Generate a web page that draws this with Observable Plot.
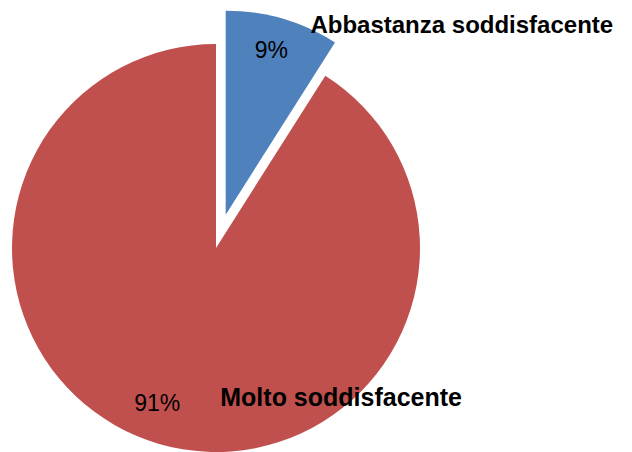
<!DOCTYPE html>
<html><head><meta charset="utf-8">
<script src="https://cdn.jsdelivr.net/npm/d3@7"></script>
<script src="https://cdn.jsdelivr.net/npm/@observablehq/plot@0.6"></script>
<style>body{margin:0;background:#fff}</style>
</head><body><div id="chart"></div>
<script>
const categories = ["Abbastanza soddisfacente", "Molto soddisfacente"];
const values = [9, 91];
const pctLabels = ["9%", "91%"];
const colors = ["#4F81BD", "#C0504D"];
const explode = [0.17, 0];

const W = 632, H = 452, R = 204, CX = 216, CY = 248;
const pie = d3.pie().sort(null).value(d => d.value)(categories.map((c, i) => ({c, value: values[i], i})));
const slices = pie.map(p => {
  const mid = (p.startAngle + p.endAngle) / 2;
  const ox = explode[p.data.i] * Math.sin(mid), oy = explode[p.data.i] * Math.cos(mid);
  return {...p, cat: p.data.c, i: p.data.i, mid, ox, oy,
    lx: ox + 0.83 * Math.sin(mid), ly: oy + 0.83 * Math.cos(mid), pct: pctLabels[p.data.i]};
});

const arcMark = (index, scales, values, dims) => {
  const g = d3.create("svg:g");
  const r = scales.x(1) - scales.x(0);
  const arc = d3.arc().innerRadius(0).outerRadius(r);
  for (const s of slices) {
    g.append("path")
      .attr("d", arc(s))
      .attr("fill", colors[s.i])
      .attr("transform", `translate(${scales.x(s.ox)},${scales.y(s.oy)})`);
  }
  return g.node();
};

const s0 = slices.filter(s => s.i === 0), s1 = slices.filter(s => s.i === 1);
const chart = Plot.plot({
  width: W, height: H, margin: 0,
  x: {domain: [-CX / R, (W - CX) / R], range: [0, W], axis: null},
  y: {domain: [-(H - CY) / R, CY / R], range: [H, 0], axis: null},
  style: {fontFamily: "Liberation Sans, Arial, sans-serif"},
  marks: [
    arcMark,
    Plot.text(s0, {x: "lx", y: "ly", text: "pct", dx: -2, dy: -2, fontSize: 23, fill: "#000"}),
    Plot.text(s1, {x: "lx", y: "ly", text: "pct", dx: -12, dy: -7, fontSize: 23, fill: "#000"}),
    Plot.text(s0, {x: "lx", y: "ly", text: "cat", textAnchor: "start", dx: 37, dy: -27, fontSize: 24, fontWeight: "bold", fill: "#000"}),
    Plot.text(s1, {x: "lx", y: "ly", text: "cat", textAnchor: "start", dx: 51, dy: -13, fontSize: 25, fontWeight: "bold", fill: "#000"})
  ]
});
document.getElementById("chart").append(chart);
</script>
</body></html>
